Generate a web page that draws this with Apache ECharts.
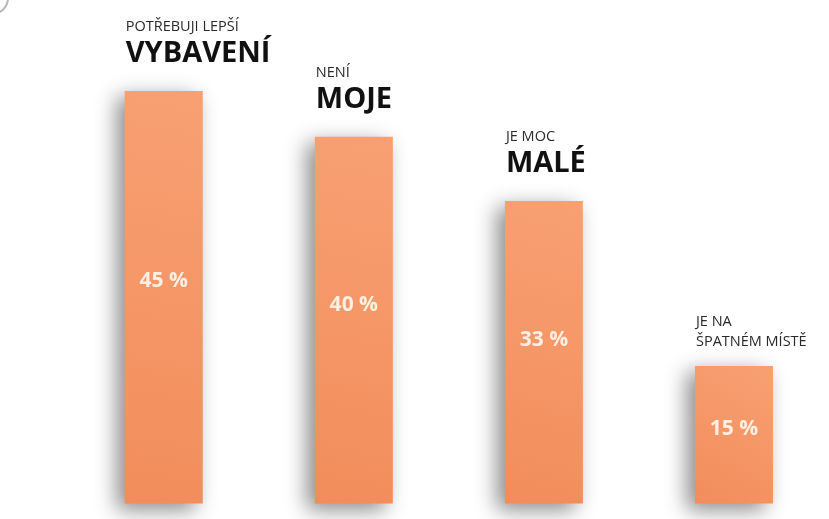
<!DOCTYPE html>
<html>
<head>
<meta charset="utf-8">
<script src="https://cdn.jsdelivr.net/npm/echarts@6/dist/echarts.min.js"></script>
<style>
html, body { margin: 0; padding: 0; background: #fff; }
#chart { width: 829px; height: 519px; }
</style>
</head>
<body>
<div id="chart"></div>
<script>
// data
var categories = ['VYBAVENÍ', 'MOJE', 'MALÉ', 'ŠPATNÉM MÍSTĚ'];
var smallTexts = ['POTŘEBUJI LEPŠÍ', 'NENÍ', 'JE MOC', 'JE NA'];
var bigTexts = ['VYBAVENÍ', 'MOJE', 'MALÉ', ''];
var values = [45, 40, 33, 15];

var chart = echarts.init(document.getElementById('chart'));

function nameLabel(i) {
	if (bigTexts[i]) {
		return '{s|' + smallTexts[i] + '}\n{b|' + bigTexts[i] + '}';
	}
	// last one has two small lines
	return '{s|' + smallTexts[i] + '}\n{s|' + categories[i] + '}';
}

// labels with only small text sit closer to the bar
var nameData = values.map(function(v, i) {
	if (bigTexts[i]) return v;
	return { value: v, label: { distance: 14 } };
});

var option = {
	backgroundColor: '#ffffff',
	animation: false,
	grid: {
		left: 68.7,
		width: 762.7,
		top: 45.2,
		bottom: 15.5
	},
	xAxis: {
		type: 'category',
		data: categories,
		show: false
	},
	yAxis: {
		type: 'value',
		min: 0,
		max: 50,
		show: false
	},
	graphic: [{
		type: 'arc',
		shape: { cx: -8, cy: -2, r: 16, startAngle: -0.2, endAngle: 1.4 },
		style: { stroke: '#b8b8b8', lineWidth: 2, fill: null }
	}],
	series: [{
		name: 'hodnota',
		type: 'bar',
		data: values,
		barWidth: 78,
		itemStyle: {
			color: new echarts.graphic.LinearGradient(1, 0, 0, 1, [
				{ offset: 0, color: '#f8a072' },
				{ offset: 1, color: '#f28d5b' }
			]),
			shadowColor: 'rgba(0,0,0,0.45)',
			shadowBlur: 20,
			shadowOffsetX: -8,
			shadowOffsetY: 6
		},
		label: {
			show: true,
			position: ['50%', '46%'],
			align: 'center',
			verticalAlign: 'middle',
			color: '#fbefe3',
			fontFamily: 'Open Sans',
			fontWeight: 'bold',
			fontSize: 21,
			formatter: function(params) {
				return params.value + ' %';
			}
		}
	}, {
		name: 'popis',
		type: 'bar',
		data: nameData,
		barWidth: 78,
		barGap: '-100%',
		silent: true,
		itemStyle: { color: 'transparent' },
		label: {
			show: true,
			position: 'top',
			distance: 20,
			align: 'left',
			offset: [-38, 0],
			fontFamily: 'Open Sans',
			formatter: function(params) {
				return nameLabel(params.dataIndex);
			},
			rich: {
				s: {
					fontFamily: 'Open Sans',
					fontSize: 14.5,
					color: '#2a2a2a',
					lineHeight: 20
				},
				b: {
					fontFamily: 'Open Sans',
					fontWeight: 'bold',
					fontSize: 29,
					color: '#111111',
					lineHeight: 34
				}
			}
		}
	}]
};
chart.setOption(option);
</script>
</body>
</html>
